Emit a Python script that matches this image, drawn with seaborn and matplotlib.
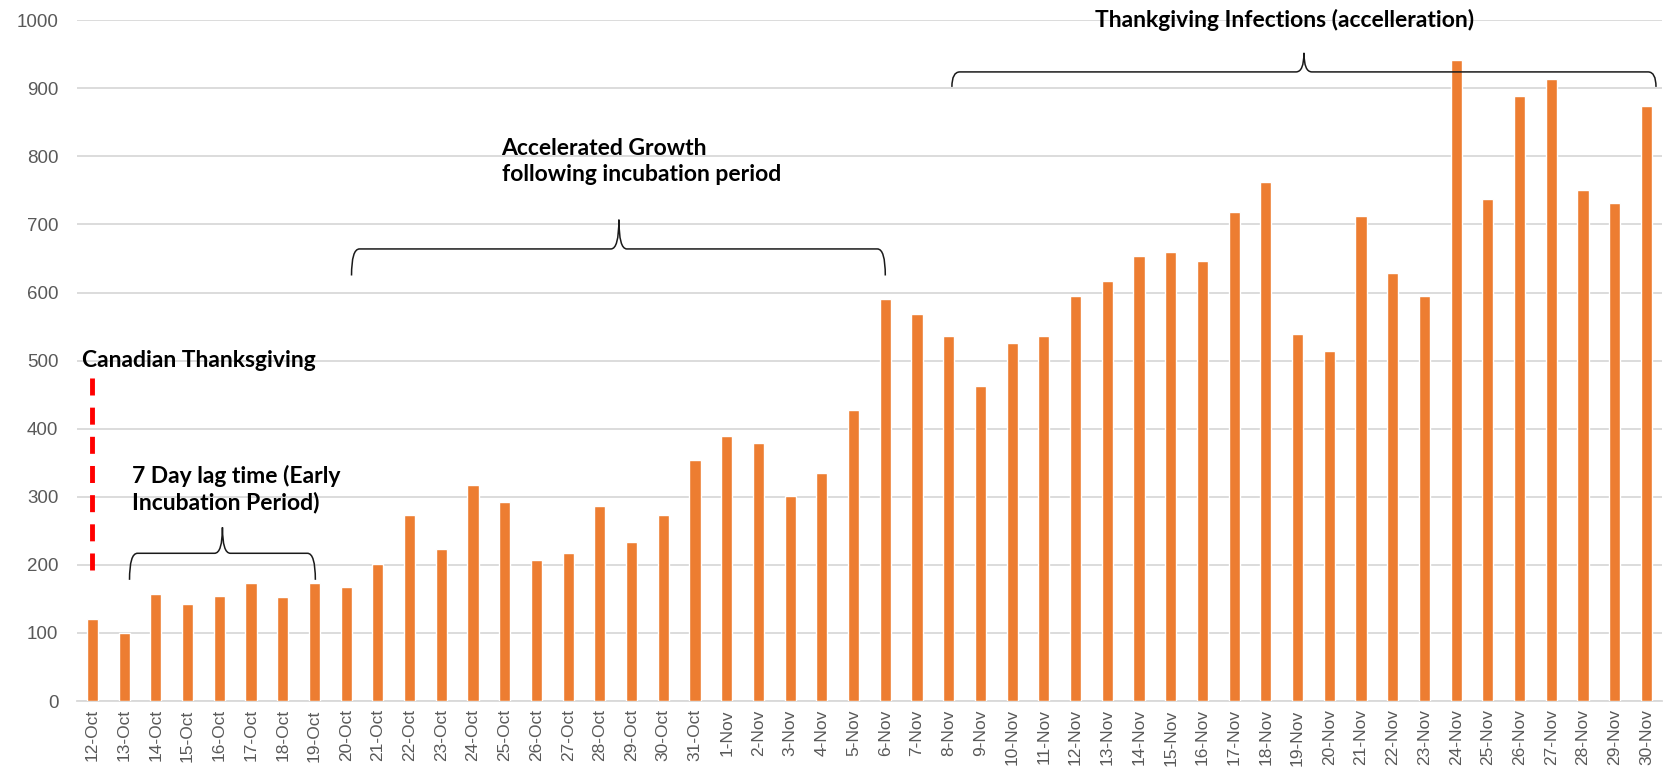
import matplotlib
matplotlib.use("Agg")
import matplotlib.pyplot as plt
import seaborn as sns
import pandas as pd
from matplotlib.path import Path
from matplotlib.patches import PathPatch

days = ([f"{d}-Oct" for d in range(12, 32)] + [f"{d}-Nov" for d in range(1, 31)])
cases = [120, 100, 157, 142, 154, 173, 153, 174, 167, 201,
         273, 223, 318, 293, 207, 217, 287, 234, 273, 354,
         389, 379, 301, 335, 427, 590, 569, 536, 463, 526,
         536, 595, 617, 654, 659, 646, 718, 762, 539, 514,
         713, 628, 595, 941, 738, 888, 913, 751, 732, 874]
y_ticks = list(range(0, 1001, 100))

df = pd.DataFrame({"day": days, "cases": cases})

sns.set_style("white")
plt.rcParams["font.family"] = ["Liberation Sans", "DejaVu Sans"]

fig = plt.figure(figsize=(16.64, 7.76), dpi=100)
ax = fig.add_axes([0.046, 0.0966, 0.953, 0.8774])

sns.barplot(data=df, x="day", y="cases", color="#ED7D31", width=0.35,
            saturation=1, ax=ax, zorder=3)

ax.set_xlim(-0.5, len(days) - 0.5)
ax.set_ylim(0, 1000)
ax.set_yticks(y_ticks)
ax.yaxis.grid(True, color="#D9D9D9", linewidth=1.3, zorder=0)
ax.set_xlabel("")
ax.set_ylabel("")
for s in ["top", "right", "left"]:
    ax.spines[s].set_visible(False)
ax.spines["bottom"].set_color("#D9D9D9")
ax.spines["bottom"].set_linewidth(1.3)

ax.tick_params(axis="y", length=0, labelsize=13.5, labelcolor="#595959", pad=13)
ax.tick_params(axis="x", which="major", length=0, labelsize=12.5,
               labelcolor="#595959", labelrotation=90, pad=6)
ax.set_xticks([i + 0.5 for i in range(-1, len(days))], minor=True)
ax.tick_params(axis="x", which="minor", length=6, color="#D9D9D9", width=1.3)

bold = dict(family=["Lato", "DejaVu Sans"], fontweight="bold", fontsize=16.5,
            color="black")


def brace(x0, x1, xm, y_tip, y_mid, y_peak, r=0.25):
    verts = [(x0, y_tip), (x0, y_mid), (x0 + r, y_mid),
             (xm - r, y_mid), (xm, y_mid), (xm, y_peak),
             (xm, y_mid), (xm + r, y_mid),
             (x1 - r, y_mid), (x1, y_mid), (x1, y_tip)]
    codes = [Path.MOVETO, Path.CURVE3, Path.CURVE3,
             Path.LINETO, Path.CURVE3, Path.CURVE3,
             Path.CURVE3, Path.CURVE3,
             Path.LINETO, Path.CURVE3, Path.CURVE3]
    ax.add_patch(PathPatch(Path(verts, codes), fill=False, edgecolor="#1a1a1a",
                           linewidth=1.1, zorder=4, clip_on=False))


# Canadian Thanksgiving marker
ax.plot([0, 0], [192, 482], color="#FF0000", linestyle=(0, (3.5, 2.5)),
        linewidth=3.5, zorder=5)
ax.text(-0.33, 500, "Canadian Thanksgiving", ha="left", va="center", **bold)

ax.text(1.24, 311, "7 Day lag time (Early\nIncubation Period)", ha="left",
        va="center", linespacing=1.3, **bold)
brace(1.17, 7.03, 4.1, 178, 217, 255)

ax.text(12.9, 793, "Accelerated Growth\nfollowing incubation period", ha="left",
        va="center", linespacing=1.3, **bold)
brace(8.17, 25.0, 16.6, 625, 664, 707)

ax.text(37.6, 1001, "Thankgiving Infections (accelleration)", ha="center",
        va="center", clip_on=False, **bold)
brace(27.1, 49.3, 38.2, 902, 924, 952)

fig.savefig("out.png", dpi=100)
